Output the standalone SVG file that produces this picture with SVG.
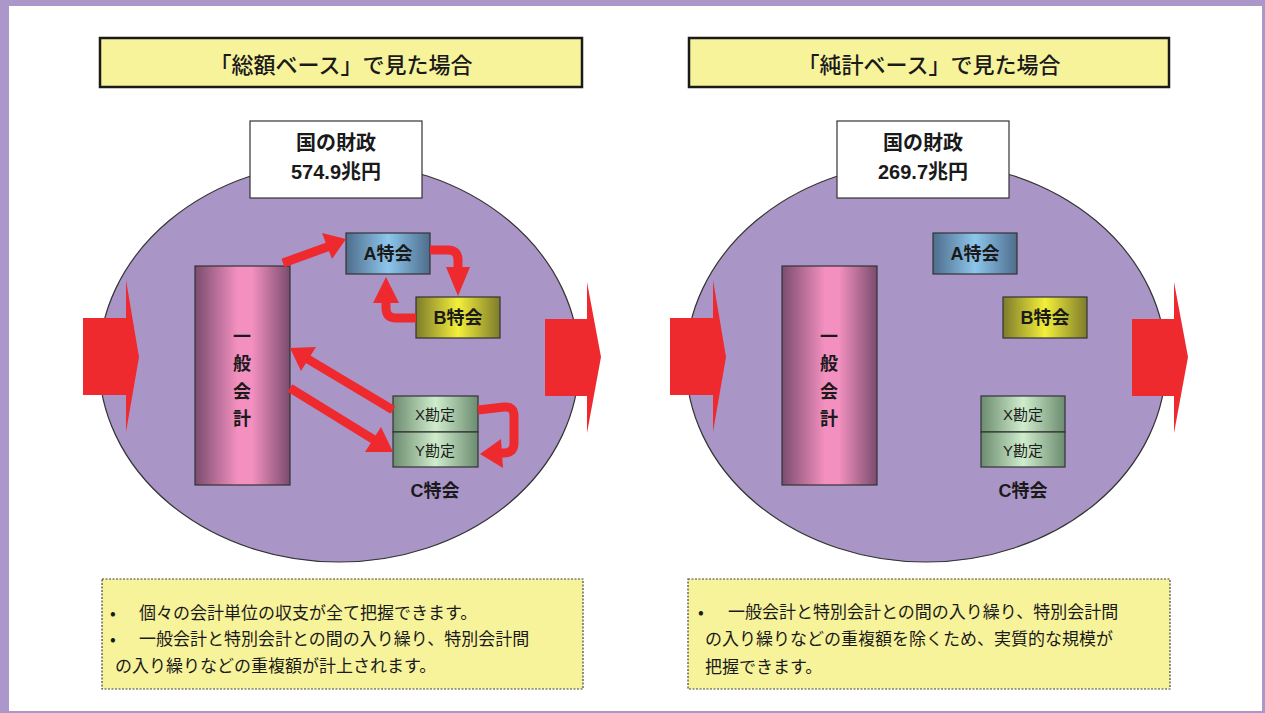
<svg xmlns="http://www.w3.org/2000/svg" width="1265" height="713" viewBox="0 0 1265 713">
<style>
.title{font-family:"Noto Sans CJK JP","Liberation Sans",sans-serif;font-size:22px;font-weight:500;fill:#1a1a1a;text-anchor:middle;dominant-baseline:central}
.big{font-family:"Liberation Sans","Noto Sans CJK JP",sans-serif;font-size:20px;font-weight:bold;fill:#1a1a1a;text-anchor:middle;dominant-baseline:central}
.lbl{font-family:"Liberation Sans","Noto Sans CJK JP",sans-serif;font-size:18px;font-weight:bold;fill:#1a1a1a;text-anchor:middle;dominant-baseline:central}
.sub{font-family:"Liberation Sans","Noto Sans CJK JP",sans-serif;font-size:15px;fill:#1a1a1a;text-anchor:middle;dominant-baseline:central}
.note{font-family:"Noto Sans CJK JP","Liberation Sans",sans-serif;font-size:17px;fill:#1a1a1a;dominant-baseline:central}
.tbox{fill:#F7F39B;stroke:#1a1a1a;stroke-width:2.5}
.nbox{fill:#F7F39B;stroke:#444;stroke-width:1.2;stroke-dasharray:2 1.5}
.ell{fill:#AA95C7;stroke:#333;stroke-width:1.2}
.wbox{fill:#fff;stroke:#333;stroke-width:1.2}
.bx{stroke:#333;stroke-width:1.2}
.shaft{fill:none;stroke:#EE2A2E;stroke-width:9}
.head{fill:#EE2A2E}
</style>
<defs>
<linearGradient id="gP" x1="0" x2="1" y1="0" y2="0">
<stop offset="0" stop-color="#7A4C6E"/><stop offset="0.45" stop-color="#F390C0"/><stop offset="0.6" stop-color="#F390C0"/><stop offset="1" stop-color="#7A4C6E"/>
</linearGradient>
<linearGradient id="gA" x1="0" x2="1" y1="0" y2="0">
<stop offset="0" stop-color="#4E6D8C"/><stop offset="0.5" stop-color="#8DC6EC"/><stop offset="1" stop-color="#4E6D8C"/>
</linearGradient>
<linearGradient id="gB" x1="0" x2="1" y1="0" y2="0">
<stop offset="0" stop-color="#7E7C2C"/><stop offset="0.5" stop-color="#F3EF3A"/><stop offset="1" stop-color="#7E7C2C"/>
</linearGradient>
<linearGradient id="gC" x1="0" x2="1" y1="0" y2="0">
<stop offset="0" stop-color="#6C8C70"/><stop offset="0.5" stop-color="#CFEDCC"/><stop offset="1" stop-color="#6C8C70"/>
</linearGradient>
</defs>
<rect x="0" y="0" width="1265" height="713" fill="#AB97C9"/>
<rect x="9" y="6" width="1253" height="705" fill="#fff"/>

<g id="left-panel">
<g id="title-left"><rect class="tbox" x="100" y="38" width="482" height="49"/><text class="title" x="341" y="63">「総額ベース」で見た場合</text></g>
<g id="ellipse-left"><ellipse class="ell" cx="339" cy="362" rx="240" ry="200"/></g>
<g id="bigarrow-in-left"><polygon class="head" points="83,318 126,318 126,280 139,357 126,432 126,395 83,395"/></g>
<g id="bigarrow-out-left"><polygon class="head" points="545,319 587,319 587,282 601,357 587,433 587,396 545,396"/></g>
<g id="zaisei-left"><rect class="wbox" x="250" y="121" width="172" height="77"/><text class="big" x="336" y="143">国の財政</text><text class="big" x="336" y="172">574.9兆円</text></g>
<g id="ippan-left"><rect class="bx" x="195" y="266" width="95" height="219" fill="url(#gP)"/>
<text class="lbl" x="242" y="337">一</text><text class="lbl" x="242" y="364">般</text><text class="lbl" x="242" y="392">会</text><text class="lbl" x="242" y="419">計</text></g>
<g id="a-left"><rect class="bx" x="346" y="233" width="84" height="41" fill="url(#gA)"/><text class="lbl" x="388" y="254">A特会</text></g>
<g id="b-left"><rect class="bx" x="416" y="297" width="84" height="41" fill="url(#gB)"/><text class="lbl" x="458" y="318">B特会</text></g>
<g id="c-left"><rect class="bx" x="393" y="396" width="85" height="36" fill="url(#gC)"/><text class="sub" x="435" y="414">X勘定</text>
<rect class="bx" x="393" y="432" width="85" height="35" fill="url(#gC)"/><text class="sub" x="435" y="450">Y勘定</text>
<text class="lbl" x="435" y="491">C特会</text></g>
<g id="connectors-left">
<path class="shaft" d="M283,263 L330,246"/><polygon class="head" points="346,239 322,233 332,259"/>
<path class="shaft" d="M430,250 L448,250 Q458,250 458,260 L458,268"/><polygon class="head" points="446,267 470,267 458,296"/>
<path class="shaft" d="M416,318 L396,318 Q386,318 386,308 L386,302"/><polygon class="head" points="373,303 399,303 386,277"/>
<path class="shaft" d="M393,410 L306,358"/><polygon class="head" points="290,348 316,347 301,371"/>
<path class="shaft" d="M290,388 L376,441"/><polygon class="head" points="393,452 365,452 381,427"/>
<path class="shaft" d="M478,410 L504,407 Q514,406 514,416 L514,443 Q514,453 504,453 L500,453"/><polygon class="head" points="501,439 503,468 480,454"/>
</g>
<g id="note-left"><rect class="nbox" x="102" y="579" width="481" height="110"/>
<text class="note" x="110" y="611">•</text><text class="note" x="139" y="611">個々の会計単位の収支が全て把握できます。</text>
<text class="note" x="110" y="637">•</text><text class="note" x="139" y="637">一般会計と特別会計との間の入り繰り、特別会計間</text>
<text class="note" x="115" y="664">の入り繰りなどの重複額が計上されます。</text></g>
</g>

<g id="right-panel">
<g id="title-right"><rect class="tbox" x="689" y="38" width="480" height="49"/><text class="title" x="929" y="63">「純計ベース」で見た場合</text></g>
<g id="ellipse-right"><ellipse class="ell" cx="926" cy="362" rx="240" ry="200"/></g>
<g id="bigarrow-in-right"><polygon class="head" points="670,318 713,318 713,280 726,357 713,432 713,395 670,395"/></g>
<g id="bigarrow-out-right"><polygon class="head" points="1132,319 1174,319 1174,282 1188,357 1174,433 1174,396 1132,396"/></g>
<g id="zaisei-right"><rect class="wbox" x="837" y="121" width="172" height="77"/><text class="big" x="923" y="143">国の財政</text><text class="big" x="923" y="172">269.7兆円</text></g>
<g id="ippan-right"><rect class="bx" x="782" y="266" width="95" height="219" fill="url(#gP)"/>
<text class="lbl" x="829" y="337">一</text><text class="lbl" x="829" y="364">般</text><text class="lbl" x="829" y="392">会</text><text class="lbl" x="829" y="419">計</text></g>
<g id="a-right"><rect class="bx" x="933" y="233" width="84" height="41" fill="url(#gA)"/><text class="lbl" x="975" y="254">A特会</text></g>
<g id="b-right"><rect class="bx" x="1003" y="297" width="84" height="41" fill="url(#gB)"/><text class="lbl" x="1045" y="318">B特会</text></g>
<g id="c-right"><rect class="bx" x="981" y="396" width="84" height="36" fill="url(#gC)"/><text class="sub" x="1023" y="414">X勘定</text>
<rect class="bx" x="981" y="432" width="84" height="35" fill="url(#gC)"/><text class="sub" x="1023" y="450">Y勘定</text>
<text class="lbl" x="1023" y="491">C特会</text></g>
<g id="note-right"><rect class="nbox" x="688" y="579" width="482" height="110"/>
<text class="note" x="698" y="610">•</text><text class="note" x="728" y="610">一般会計と特別会計との間の入り繰り、特別会計間</text>
<text class="note" x="705" y="637">の入り繰りなどの重複額を除くため、実質的な規模が</text>
<text class="note" x="705" y="665">把握できます。</text></g>
</g>
</svg>
